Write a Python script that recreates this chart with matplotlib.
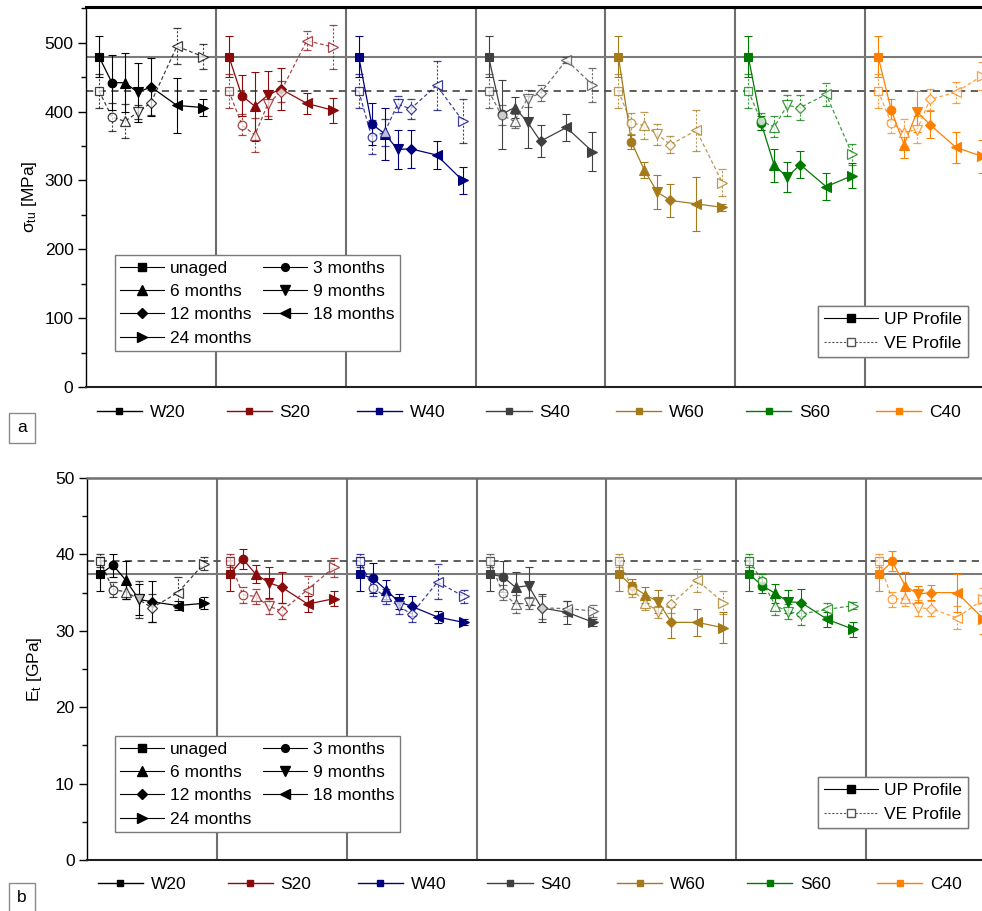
import matplotlib
matplotlib.use("Agg")
import matplotlib.pyplot as plt
from matplotlib.lines import Line2D
from matplotlib.ticker import MultipleLocator, NullLocator
from matplotlib.transforms import blended_transform_factory

plt.rcParams['font.family'] = ['Liberation Sans', 'DejaVu Sans']
plt.rcParams['mathtext.fontset'] = 'custom'
plt.rcParams['mathtext.rm'] = 'Liberation Sans'
plt.rcParams['mathtext.it'] = 'Liberation Sans:italic'

# ---------------------------------------------------------------- data
groups = ['W20', 'S20', 'W40', 'S40', 'W60', 'S60', 'C40']
colors = ['#000000', '#8B0A0A', '#00007F', '#404040', '#A57A1A', '#007A00', '#FF8000']
months = [0, 3, 6, 9, 12, 18, 24]
age_labels = ['unaged', '3 months', '6 months', '9 months', '12 months',
              '18 months', '24 months']
age_markers = ['s', 'o', '^', 'v', 'D', '<', '>']

sigma_ref_up = 480
sigma_ref_ve = 430
e_ref_up = 37.4
e_ref_ve = 39.2

# tensile strength [MPa], one row per material
sigma_up = [
    [480, 442, 442, 428, 436, 409, 406],
    [480, 423, 408, 424, 433, 412, 402],
    [480, 382, 368, 345, 346, 337, 300],
    [480, 396, 406, 385, 357, 377, 342],
    [480, 356, 315, 283, 271, 266, 261],
    [480, 383, 322, 305, 323, 291, 307],
    [480, 403, 352, 400, 381, 348, 335],
]
sigma_up_err = [
    [30, 40, 43, 43, 42, 40, 12],
    [30, 30, 50, 35, 30, 15, 18],
    [30, 30, 38, 28, 28, 20, 19],
    [30, 50, 15, 38, 23, 20, 28],
    [30, 10, 12, 25, 24, 39, 5],
    [30, 10, 24, 22, 20, 20, 18],
    [30, 15, 20, 30, 20, 22, 24],
]
sigma_ve = [
    [430, 392, 386, 399, 413, 495, 480],
    [430, 381, 366, 411, 429, 503, 494],
    [430, 363, 370, 411, 404, 438, 387],
    [430, 395, 386, 419, 427, 475, 439],
    [430, 383, 380, 367, 352, 373, 297],
    [430, 386, 378, 409, 406, 425, 338],
    [430, 384, 370, 374, 418, 428, 452],
]
sigma_ve_err = [
    [25, 20, 25, 10, 18, 26, 18],
    [25, 15, 25, 18, 15, 14, 32],
    [25, 25, 20, 12, 15, 35, 32],
    [25, 15, 10, 12, 12, 5, 25],
    [25, 15, 20, 15, 12, 30, 20],
    [25, 12, 15, 15, 18, 17, 15],
    [25, 15, 20, 20, 15, 15, 20],
]

# tensile modulus [GPa], one row per material
e_up = [
    [37.4, 38.6, 36.6, 34.1, 33.8, 33.3, 33.6],
    [37.4, 39.4, 37.4, 36.3, 35.7, 33.5, 34.2],
    [37.4, 36.9, 35.4, 33.8, 33.2, 31.8, 31.1],
    [37.4, 37.1, 35.7, 35.9, 33.0, 32.4, 31.1],
    [37.4, 35.8, 34.7, 33.8, 31.1, 31.1, 30.4],
    [37.4, 35.9, 34.9, 33.8, 33.7, 31.5, 30.2],
    [37.4, 39.1, 35.9, 34.8, 35.0, 35.0, 31.6],
]
e_up_err = [
    [2.2, 1.5, 2.5, 2.0, 2.7, 0.6, 0.8],
    [2.2, 1.3, 1.2, 2.0, 2.0, 1.0, 1.0],
    [2.2, 2.0, 1.3, 1.0, 1.3, 0.8, 0.4],
    [2.2, 2.0, 2.0, 2.5, 1.8, 1.5, 0.5],
    [2.2, 1.0, 1.0, 1.5, 2.0, 1.8, 2.0],
    [2.2, 1.0, 1.2, 1.5, 1.8, 1.0, 1.0],
    [2.2, 1.3, 1.8, 1.0, 1.0, 2.5, 2.0],
]
e_ve = [
    [39.2, 35.4, 35.1, 34.1, 33.0, 35.0, 38.8],
    [39.2, 34.7, 34.5, 33.2, 32.6, 35.4, 38.3],
    [39.2, 35.6, 34.5, 33.2, 32.2, 36.4, 34.5],
    [39.2, 35.0, 33.5, 33.6, 33.0, 32.9, 32.6],
    [39.2, 35.4, 33.7, 32.5, 33.5, 36.6, 33.7],
    [39.2, 36.5, 33.3, 32.5, 32.2, 32.8, 33.3],
    [39.2, 34.1, 34.3, 33.0, 32.9, 31.7, 34.1],
]
e_ve_err = [
    [0.8, 1.0, 1.0, 2.4, 1.8, 2.0, 0.8],
    [0.8, 1.0, 1.0, 1.0, 1.0, 1.8, 1.2],
    [0.8, 1.0, 1.0, 1.0, 1.0, 2.3, 0.8],
    [0.8, 1.0, 1.2, 0.8, 1.5, 1.0, 0.8],
    [0.8, 1.0, 1.0, 0.8, 1.2, 1.5, 1.5],
    [0.8, 1.0, 1.2, 1.0, 1.5, 0.8, 0.5],
    [0.8, 1.0, 1.0, 1.0, 1.0, 1.5, 1.5],
]

# ---------------------------------------------------------------- layout
W, H = 982, 911
fig = plt.figure(figsize=(W / 100, H / 100), dpi=100)

GROUP_SPAN = 30      # months of x-axis reserved for each material
X_PAD = 3            # months of padding before "unaged"


def axes_px(left, top, right, bottom):
    return fig.add_axes([left / W, 1 - bottom / H, (right - left) / W, (bottom - top) / H])


def fpt(x, y):
    return (x / W, 1 - y / H)


def marker_size(m):
    return 5.6 if m == 'D' else (6.2 if m in ('s', 'o') else 7.6)


def draw_series(ax, xs, ys, errs, color, open_marker):
    ls = (0, (3, 2)) if open_marker else '-'
    alpha = 0.75 if open_marker else 1.0
    ax.plot(xs, ys, ls=ls, color=color, lw=0.9, alpha=alpha,
            zorder=4 if open_marker else 3)
    for x, y, e, m in zip(xs, ys, errs, age_markers):
        cont = ax.errorbar([x], [y], yerr=[e], fmt=m, ms=marker_size(m),
                           mfc='white' if open_marker else color,
                           mec=color, mew=0.9 if open_marker else 0.8,
                           ecolor=color, elinewidth=0.8, capsize=3.2, capthick=0.8,
                           alpha=alpha, zorder=5 if open_marker else 4)
        if open_marker:
            for coll in cont[2]:
                coll.set_linestyle((0, (2, 1.5)))


def setup_axes(ax, ymax, major, minor, top_spine_color, top_lw):
    n = len(groups)
    ax.set_xlim(-X_PAD, GROUP_SPAN * n - X_PAD)
    ax.set_ylim(0, ymax)
    ax.xaxis.set_major_locator(NullLocator())
    ax.yaxis.set_major_locator(MultipleLocator(major))
    ax.yaxis.set_minor_locator(MultipleLocator(minor))
    ax.tick_params(axis='y', which='major', direction='out', length=6, width=1,
                   labelsize=12.5, pad=3)
    ax.tick_params(axis='y', which='minor', direction='out', length=3.5, width=1)
    ax.spines['left'].set_linewidth(1.0)
    ax.spines['bottom'].set_linewidth(1.5)
    ax.spines['bottom'].set_color('#202020')
    ax.spines['top'].set_linewidth(top_lw)
    ax.spines['top'].set_color(top_spine_color)
    ax.spines['right'].set_visible(False)
    for g in range(1, n):
        ax.axvline(GROUP_SPAN * g - X_PAD, color='#6E6E6E', lw=1.5, zorder=1)


def group_legends(ax, y_axes):
    trans = blended_transform_factory(ax.transData, ax.transAxes)
    for g, (name, c) in enumerate(zip(groups, colors)):
        h = Line2D([], [], color=c, lw=1.0, marker='s', ms=4.2, mfc=c, mec=c)
        leg = ax.legend([h], [name], loc='center left',
                        bbox_to_anchor=(GROUP_SPAN * g - X_PAD + 2.5, y_axes),
                        bbox_transform=trans, frameon=False, fontsize=12.5,
                        handlelength=2.6, handletextpad=0.45, borderpad=0,
                        borderaxespad=0)
        ax.add_artist(leg)


def age_legend(ax, anchor):
    hs = [Line2D([], [], color='black', lw=0.8, marker=m, ms=marker_size(m) - 0.6,
                 mfc='black', mec='black') for m in age_markers]
    order = [0, 2, 4, 6, 1, 3, 5]
    leg = ax.legend([hs[i] for i in order], [age_labels[i] for i in order],
                    ncol=2, loc='lower left', bbox_to_anchor=anchor,
                    bbox_transform=fig.transFigure, fontsize=12.5,
                    handlelength=2.5, handletextpad=0.35, columnspacing=0.7,
                    labelspacing=0.47, borderpad=0.3, borderaxespad=0,
                    fancybox=False, framealpha=1, edgecolor='#7A7A7A')
    leg.get_frame().set_linewidth(1.0)
    ax.add_artist(leg)


def profile_legend(ax, anchor):
    hs = [Line2D([], [], color='black', lw=0.8, marker='s', ms=5.5,
                 mfc='black', mec='black'),
          Line2D([], [], color='#555555', lw=0.8, ls=(0, (2, 1.5)), marker='s',
                 ms=5.5, mfc='white', mec='#555555')]
    leg = ax.legend(hs, ['UP Profile', 'VE Profile'], loc='lower right',
                    bbox_to_anchor=anchor, bbox_transform=fig.transFigure,
                    fontsize=12.5, handlelength=3.1, handletextpad=0.35,
                    labelspacing=0.5, borderpad=0.35, borderaxespad=0,
                    fancybox=False, framealpha=1, edgecolor='#7A7A7A')
    leg.get_frame().set_linewidth(1.0)
    ax.add_artist(leg)


def panel(ax, up, up_err, ve, ve_err, ref_up, ref_ve):
    ax.axhline(ref_up, color='#7A7A7A', lw=1.5, zorder=2)
    ax.axhline(ref_ve, color='#505050', lw=1.3, ls=(0, (4, 3)), zorder=2)
    for g, c in enumerate(colors):
        xs = [GROUP_SPAN * g + m for m in months]
        draw_series(ax, xs, up[g], up_err[g], c, open_marker=False)
        draw_series(ax, xs, ve[g], ve_err[g], c, open_marker=True)


# ---------------------------------------------------------------- panel a
ax_a = axes_px(86, 7, 995, 387)
setup_axes(ax_a, 552, 100, 50, '#000000', 2.2)
panel(ax_a, sigma_up, sigma_up_err, sigma_ve, sigma_ve_err, sigma_ref_up, sigma_ref_ve)
ax_a.set_ylabel(r'σ$_{\mathrm{tu}}$ [MPa]', fontsize=12.5, labelpad=4)
group_legends(ax_a, -25 / 380)
age_legend(ax_a, fpt(115, 351))
profile_legend(ax_a, fpt(968, 357))

# ---------------------------------------------------------------- panel b
ax_b = axes_px(87, 478, 996, 860)
setup_axes(ax_b, 50, 10, 5, '#6E6E6E', 1.8)
panel(ax_b, e_up, e_up_err, e_ve, e_ve_err, e_ref_up, e_ref_ve)
ax_b.set_ylabel(r'E$_{\mathrm{t}}$ [GPa]', fontsize=12.5, labelpad=8)
group_legends(ax_b, -24 / 382)
age_legend(ax_b, fpt(115, 832))
profile_legend(ax_b, fpt(968, 828))

# panel letters
for letter, y in (('a', 428), ('b', 898)):
    fig.text(22 / W, 1 - y / H, letter, ha='center', va='center', fontsize=12.5,
             bbox=dict(boxstyle='square,pad=0.45', fc='white', ec='#8A8A8A', lw=1))

fig.savefig('out.png', dpi=100)
